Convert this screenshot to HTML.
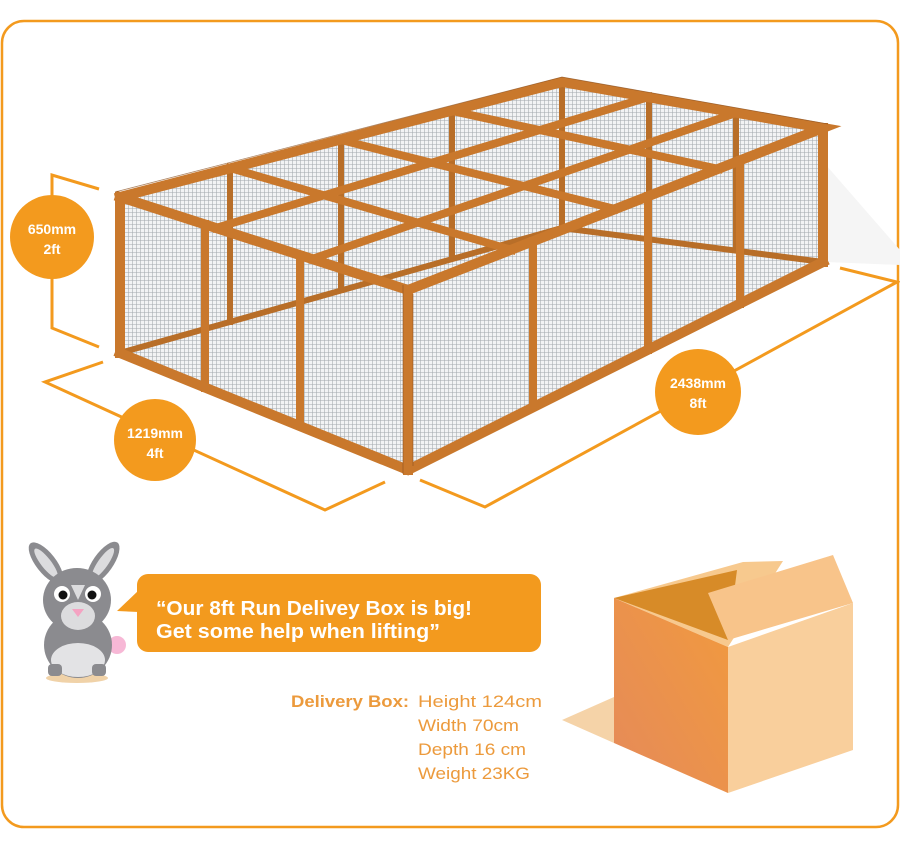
<!DOCTYPE html>
<html><head><meta charset="utf-8"><style>
html,body{margin:0;padding:0;background:#fff;}
svg{display:block;font-family:"Liberation Sans",sans-serif;}
</style></head><body>
<svg width="900" height="848" viewBox="0 0 900 848" xmlns="http://www.w3.org/2000/svg">
<defs>
<pattern id="mesh" width="4" height="4" patternUnits="userSpaceOnUse">
<rect width="4" height="4" fill="#f2f3f4"/>
<path d="M0 0.5H4M0.5 0V4" stroke="#a3a8ad" stroke-width="0.55"/>
</pattern>
<linearGradient id="bf" x1="0" y1="1" x2="1" y2="0">
<stop offset="0" stop-color="#e58a5a"/><stop offset="1" stop-color="#f19a3e"/>
</linearGradient>
</defs>
<rect x="2" y="21" width="896" height="806" rx="22" fill="none" stroke="#f39a1e" stroke-width="2.5"/>

<!-- dimension lines -->
<g stroke="#f39a1e" stroke-width="3" fill="none">
<polyline points="99,189 52,175 52,328 99,347"/>
<polyline points="103,362 45,382 325,510 385,482"/>
<polyline points="840,268 897,282 485,507 420,480"/>
</g>
<g fill="#f39a1e">
<circle cx="52" cy="237" r="42"/>
<circle cx="155" cy="440" r="41"/>
<circle cx="698" cy="392" r="43"/>
</g>
<g fill="#fff" font-weight="bold" font-size="14" text-anchor="middle">
<text x="52" y="234">650mm</text><text x="52" y="254">2ft</text>
<text x="155" y="438">1219mm</text><text x="155" y="458">4ft</text>
<text x="698" y="388">2438mm</text><text x="698" y="408">8ft</text>
</g>

<!-- cage -->
<polygon points="826,165 900,250 900,265 826,262" fill="#f5f5f5"/>
<polygon points="120,197 562,82 823,128 823,262 408,470 120,353" fill="url(#mesh)"/>
<polygon points="120,353 408,470 823,262 823,267 408,475 120,358" fill="#3a2a1a"/>
<g stroke="#c9782c" stroke-linecap="square" fill="none">
<g stroke-width="6" stroke="#b86e28">
<line x1="562" y1="82" x2="562" y2="228"/>
<line x1="120" y1="353" x2="562" y2="228"/>
<line x1="562" y1="228" x2="823" y2="262"/>
<line x1="341" y1="140" x2="341" y2="290"/>
<line x1="649" y1="97" x2="649" y2="240"/>
<line x1="230" y1="168" x2="230" y2="322"/>
<line x1="452" y1="111" x2="452" y2="258"/>
<line x1="736" y1="113" x2="736" y2="250"/>
</g>
<g stroke-width="8">
<line x1="230" y1="168" x2="512" y2="250"/>
<line x1="341" y1="140" x2="615" y2="209"/>
<line x1="452" y1="111" x2="719" y2="169"/>
<line x1="216" y1="228" x2="649" y2="97"/>
<line x1="312" y1="259" x2="736" y2="113"/>
</g>
<g stroke-width="8">
<line x1="533" y1="241" x2="533" y2="407"/>
<line x1="648" y1="196" x2="648" y2="350"/>
<line x1="740" y1="160" x2="740" y2="304"/>
<line x1="205" y1="224" x2="205" y2="388"/>
<line x1="300" y1="255" x2="300" y2="426"/>
</g>
<g stroke-width="10">
<polyline points="120,197 562,82 823,128 408,290 120,197"/>
<line x1="120" y1="197" x2="120" y2="353"/>
<line x1="408" y1="290" x2="408" y2="470"/>
<line x1="823" y1="128" x2="823" y2="262"/>
<polyline points="120,353 408,470 823,262"/>
</g>
</g>
<g stroke="#8a5020" stroke-width="0.8" fill="none" opacity="0.7">
<polyline points="115,192 562,77 828,124"/>
<line x1="403" y1="285" x2="403" y2="474"/>
<line x1="413" y1="294" x2="413" y2="466"/>
</g>

<!-- rabbit -->
<ellipse cx="77" cy="678" rx="31" ry="5" fill="#f0d2a8"/>
<circle cx="117" cy="645" r="9" fill="#f7b8d6"/>
<g transform="rotate(-38 46 563)"><ellipse cx="46" cy="563" rx="10" ry="25" fill="#8b8b8f"/><ellipse cx="46" cy="563" rx="5" ry="18" fill="#dcdcde"/></g>
<g transform="rotate(35 103 563)"><ellipse cx="103" cy="563" rx="10" ry="25" fill="#8b8b8f"/><ellipse cx="103" cy="563" rx="5" ry="18" fill="#dcdcde"/></g>
<ellipse cx="78" cy="645" rx="34" ry="33" fill="#8b8b8f"/>
<ellipse cx="78" cy="660" rx="27" ry="17" fill="#e3e3e5"/>
<rect x="48" y="664" width="14" height="12" rx="4" fill="#8b8b8f"/>
<rect x="92" y="664" width="14" height="12" rx="4" fill="#8b8b8f"/>
<ellipse cx="77" cy="600" rx="34" ry="32" fill="#8b8b8f"/>
<ellipse cx="78" cy="616" rx="17" ry="14" fill="#dcdcde"/>
<path d="M71 585 L78 600 L85 585 Z" fill="#dcdcde"/>
<circle cx="62" cy="594" r="8" fill="#fff"/><circle cx="93" cy="594" r="8" fill="#fff"/>
<circle cx="63" cy="595" r="4.5" fill="#111"/><circle cx="92" cy="595" r="4.5" fill="#111"/>
<path d="M72 609 L84 609 L78 617 Z" fill="#f4a3c2"/>

<!-- bubble -->
<path d="M139 590 L117 611 L139 612 Z" fill="#f39a1e"/>
<rect x="137" y="574" width="404" height="78" rx="11" fill="#f39a1e"/>
<g fill="#fff" font-weight="bold" font-size="20">
<text x="156" y="615" textLength="316" lengthAdjust="spacingAndGlyphs">“Our 8ft Run Delivey Box is big!</text>
<text x="156" y="638" textLength="284" lengthAdjust="spacingAndGlyphs">Get some help when lifting”</text>
</g>

<!-- box -->
<polygon points="562,720 614,697 614,743" fill="#f5d3a8"/>
<polygon points="614,598 743,562 783,561 728,647" fill="#f7c98e"/>
<polygon points="614,598 737,570 728,640" fill="#d78b28"/>
<polygon points="614,598 728,647 728,793 614,743" fill="url(#bf)"/>
<polygon points="728,647 853,603 853,750 728,793" fill="#f9cf9c"/>
<polygon points="708,593 833,555 853,603 728,640" fill="#f8c48a"/>

<!-- delivery text -->
<g fill="#ec9a3c" font-size="17">
<text x="291" y="707" font-weight="bold" textLength="118" lengthAdjust="spacingAndGlyphs">Delivery Box:</text>
<text x="418" y="707" textLength="124" lengthAdjust="spacingAndGlyphs">Height 124cm</text>
<text x="418" y="731" textLength="101" lengthAdjust="spacingAndGlyphs">Width 70cm</text>
<text x="418" y="755" textLength="108" lengthAdjust="spacingAndGlyphs">Depth 16 cm</text>
<text x="418" y="779" textLength="112" lengthAdjust="spacingAndGlyphs">Weight 23KG</text>
</g>
</svg>
</body></html>
